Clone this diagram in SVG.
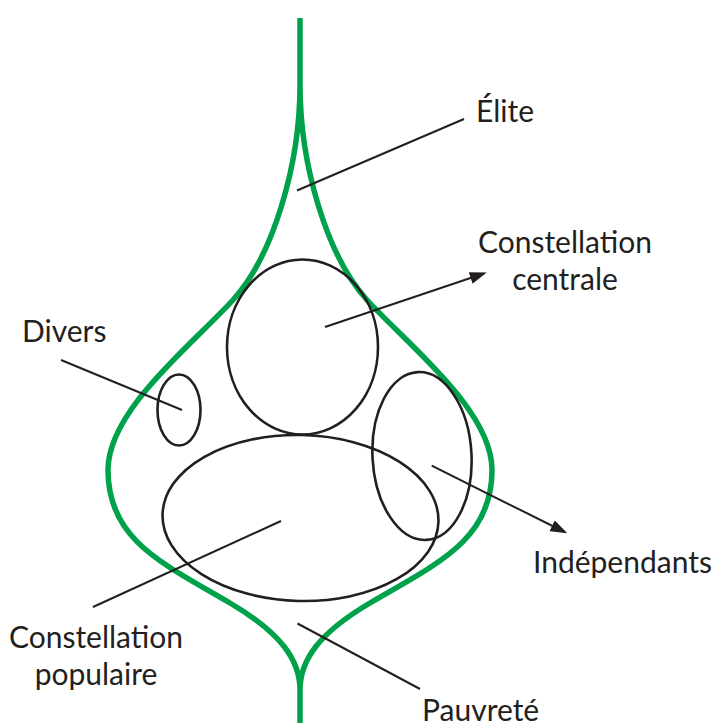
<svg xmlns="http://www.w3.org/2000/svg" width="714" height="723" viewBox="0 0 714 723">
<style>
.frame{fill:none;stroke:#00a14b;stroke-width:5.5;stroke-linejoin:round}
.ell{fill:none;stroke:#231f20;stroke-width:2.6}
.lead{fill:none;stroke:#231f20;stroke-width:2}
.lbl{font-family:Lato,"Open Sans","Liberation Sans",sans-serif;font-size:30px;fill:#231f20}
</style>
<defs>
<marker id="arr" viewBox="0 0 17 12" refX="14" refY="6" markerWidth="17" markerHeight="12" markerUnits="userSpaceOnUse" orient="auto">
<path d="M0,0 L17,6 L0,12 z" fill="#231f20"/>
</marker>
</defs>
<rect width="714" height="723" fill="#ffffff"/>
<g id="outline">
<path class="frame" d="M300,18 L300,85 C300,165 273,256 233,300 C193,344 108,410 108,470 C108,540 162,563 230,603 C281,633 300,660 300,690 L300,723 M300,85 C300,165 327,256 367,300 C407,344 492,410 492,470 C492,540 438,563 370,603 C319,633 300,660 300,690"/>
</g>
<g id="constellation-centrale">
<ellipse class="ell" cx="302.5" cy="347" rx="75.5" ry="87.5"/>
</g>
<g id="divers">
<ellipse class="ell" cx="179" cy="410" rx="21.5" ry="35.5"/>
</g>
<g id="independants">
<ellipse class="ell" cx="422" cy="456" rx="49.5" ry="84" transform="rotate(-3 422 456)"/>
</g>
<g id="constellation-populaire">
<ellipse class="ell" cx="300.5" cy="518" rx="138" ry="83" transform="rotate(1.5 300.5 518)"/>
</g>
<g id="connectors">
<line class="lead" x1="297" y1="190.5" x2="464" y2="119"/>
<line class="lead" x1="325" y1="327" x2="483.9" y2="273.5" marker-end="url(#arr)"/>
<line class="lead" x1="61" y1="360" x2="182" y2="410"/>
<line class="lead" x1="431.7" y1="465.7" x2="564.6" y2="532" marker-end="url(#arr)"/>
<line class="lead" x1="93" y1="607" x2="281" y2="521"/>
<line class="lead" x1="297.5" y1="623.5" x2="420" y2="689"/>
</g>
<g id="labels">
<text class="lbl" x="476" y="122">Élite</text>
<text class="lbl" x="565" y="253" text-anchor="middle">Constellation</text>
<text class="lbl" x="565" y="290" text-anchor="middle">centrale</text>
<text class="lbl" x="22" y="342">Divers</text>
<text class="lbl" x="533" y="573">Indépendants</text>
<text class="lbl" x="96" y="648" text-anchor="middle">Constellation</text>
<text class="lbl" x="96" y="685" text-anchor="middle">populaire</text>
<text class="lbl" x="422" y="721">Pauvreté</text>
</g>
</svg>
